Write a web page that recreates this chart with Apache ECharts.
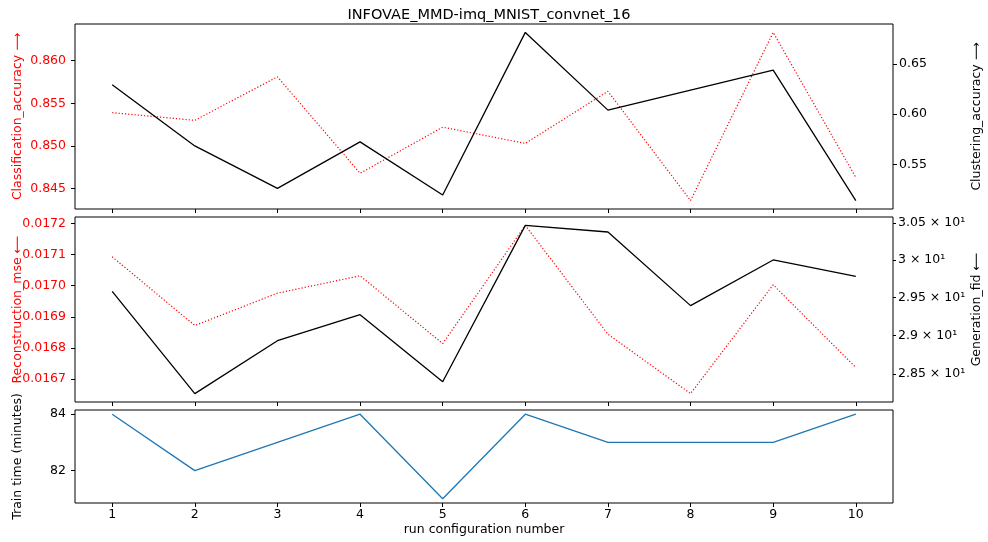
<!DOCTYPE html>
<html>
<head>
<meta charset="utf-8">
<script src="https://cdn.jsdelivr.net/npm/echarts@6/dist/echarts.min.js"></script>
<style>
html,body{margin:0;padding:0;background:#fff;}
#chart{width:988px;height:542px;}
</style>
</head>
<body>
<div id="chart"></div>
<script>
// ---- data ----
const runs = [1, 2, 3, 4, 5, 6, 7, 8, 9, 10];
const classificationAccuracy = [0.8539, 0.8530, 0.8581, 0.8468, 0.8522, 0.8503, 0.8564, 0.8436, 0.8633, 0.8463];
const clusteringAccuracy = [0.6292, 0.5684, 0.5262, 0.5724, 0.5196, 0.6813, 0.6040, 0.6240, 0.6437, 0.5140];
const reconstructionMse = [0.017093, 0.016872, 0.016976, 0.017032, 0.016814, 0.017194, 0.016844, 0.016653, 0.017003, 0.016737];
const generationFid = [29.58, 28.25, 28.93, 29.27, 28.40, 30.47, 30.38, 29.39, 30.00, 29.78];
const trainTime = [84, 82, 83, 84, 81, 84, 83, 83, 83, 84];

// ---- tick labels ----
const xTicks = [1, 2, 3, 4, 5, 6, 7, 8, 9, 10];
const classTicks = [0.845, 0.850, 0.855, 0.860];
const clusterTicks = [0.55, 0.60, 0.65];
const mseTicks = [0.0167, 0.0168, 0.0169, 0.0170, 0.0171, 0.0172];
const fidTicks = [28.5, 29, 29.5, 30, 30.5];
const fidTickLabels = ['2.85 × 10¹', '2.9 × 10¹', '2.95 × 10¹', '3 × 10¹', '3.05 × 10¹'];
const timeTicks = [82, 84];

const title = 'INFOVAE_MMD-imq_MNIST_convnet_16';

function pairs(ys) { return runs.map((x, i) => [x, ys[i]]); }
function lim(vals) {
  const lo = Math.min(...vals), hi = Math.max(...vals), r = hi - lo;
  return [lo - 0.05 * r, hi + 0.05 * r];
}
function logLim(vals) {
  const l = lim(vals.map(v => Math.log10(v)));
  return [Math.pow(10, l[0]), Math.pow(10, l[1])];
}
const xl = lim(runs);

const FONT = 'DejaVu Sans';
const RED = '#ff0000';

function xAxis(gi, showLabels) {
  return {
    type: 'value', gridIndex: gi, min: xl[0], max: xl[1],
    axisLine: { show: false },
    splitLine: { show: false },
    axisTick: { show: true, length: 4, customValues: xTicks, lineStyle: { color: '#000' } },
    axisLabel: { show: showLabels, customValues: xTicks, color: '#000', fontFamily: FONT, fontSize: 12.5, margin: 5 },
    name: showLabels ? 'run configuration number' : '',
    nameLocation: 'middle', nameGap: 20, nameMoveOverlap: false,
    nameTextStyle: { color: '#000', fontFamily: FONT, fontSize: 12.5 }
  };
}

function yAxis(opts) {
  return Object.assign({
    type: 'value', splitLine: { show: false }, axisLine: { show: false },
    nameLocation: 'middle', nameRotate: 90, nameMoveOverlap: false
  }, opts);
}

function grid(top, height) {
  return { left: 75, right: 95, top: top, height: height, show: true, borderColor: '#000', borderWidth: 1,
           backgroundColor: 'transparent', outerBoundsMode: 'none', containLabel: false };
}

const cl = lim(classificationAccuracy);
const cu = lim(clusteringAccuracy);
const ml = lim(reconstructionMse);
const fl = logLim(generationFid);
const tl = lim(trainTime);

const option = {
  animation: false,
  backgroundColor: '#fff',
  title: {
    text: title, left: 484, top: 3, textAlign: 'center',
    textStyle: { fontFamily: FONT, fontSize: 14.5, fontWeight: 'normal', color: '#000' }
  },
  grid: [grid(24, 185), grid(217, 185), grid(410, 93)],
  xAxis: [xAxis(0, false), xAxis(1, false), xAxis(2, true)],
  yAxis: [
    yAxis({
      gridIndex: 0, position: 'left', min: cl[0], max: cl[1],
      axisTick: { show: true, length: 4, customValues: classTicks, lineStyle: { color: '#000' } },
      axisLabel: { customValues: classTicks, color: RED, fontFamily: FONT, fontSize: 12.5, margin: 9, formatter: v => v.toFixed(3) },
      name: 'Classification_accuracy ⟶', nameGap: 51,
      nameTextStyle: { color: RED, fontFamily: FONT, fontSize: 12.5 }
    }),
    yAxis({
      gridIndex: 0, position: 'right', min: cu[0], max: cu[1],
      axisTick: { show: true, length: 4, customValues: clusterTicks, lineStyle: { color: '#000' } },
      axisLabel: { customValues: clusterTicks, color: '#000', fontFamily: FONT, fontSize: 12.5, margin: 6, formatter: v => v.toFixed(2) },
      name: 'Clustering_accuracy ⟶', nameGap: 77,
      nameTextStyle: { color: '#000', fontFamily: FONT, fontSize: 12.5 }
    }),
    yAxis({
      gridIndex: 1, position: 'left', min: ml[0], max: ml[1],
      axisTick: { show: true, length: 4, customValues: mseTicks, lineStyle: { color: '#000' } },
      axisLabel: { customValues: mseTicks, color: RED, fontFamily: FONT, fontSize: 12.5, margin: 9, formatter: v => v.toFixed(4) },
      name: 'Reconstruction_mse ⟵', nameGap: 51,
      nameTextStyle: { color: RED, fontFamily: FONT, fontSize: 12.5 }
    }),
    yAxis({
      gridIndex: 1, position: 'right', type: 'log', min: fl[0], max: fl[1],
      axisTick: { show: true, length: 3, customValues: fidTicks, lineStyle: { color: '#000' } },
      axisLabel: {
        customValues: fidTicks, color: '#000', fontFamily: FONT, fontSize: 12.5, margin: 5,
        formatter: v => { const i = fidTicks.findIndex(t => Math.abs(t - v) < 1e-6); return i >= 0 ? fidTickLabels[i] : ''; }
      },
      name: 'Generation_fid ⟵', nameGap: 77,
      nameTextStyle: { color: '#000', fontFamily: FONT, fontSize: 12.5 }
    }),
    yAxis({
      gridIndex: 2, position: 'left', min: tl[0], max: tl[1],
      axisTick: { show: true, length: 4, customValues: timeTicks, lineStyle: { color: '#000' } },
      axisLabel: { customValues: timeTicks, color: '#000', fontFamily: FONT, fontSize: 12.5, margin: 9, formatter: v => String(Math.round(v)) },
      name: 'Train time (minutes)', nameGap: 51,
      nameTextStyle: { color: '#000', fontFamily: FONT, fontSize: 12.5 }
    })
  ],
  series: [
    { type: 'line', xAxisIndex: 0, yAxisIndex: 0, data: pairs(classificationAccuracy), showSymbol: false, symbol: 'none',
      lineStyle: { color: RED, width: 1.2, type: [1.2, 2] } },
    { type: 'line', xAxisIndex: 0, yAxisIndex: 1, data: pairs(clusteringAccuracy), showSymbol: false, symbol: 'none',
      lineStyle: { color: '#000', width: 1.3 } },
    { type: 'line', xAxisIndex: 1, yAxisIndex: 2, data: pairs(reconstructionMse), showSymbol: false, symbol: 'none',
      lineStyle: { color: RED, width: 1.2, type: [1.2, 2] } },
    { type: 'line', xAxisIndex: 1, yAxisIndex: 3, data: pairs(generationFid), showSymbol: false, symbol: 'none',
      lineStyle: { color: '#000', width: 1.3 } },
    { type: 'line', xAxisIndex: 2, yAxisIndex: 4, data: pairs(trainTime), showSymbol: false, symbol: 'none',
      lineStyle: { color: '#1f77b4', width: 1.3 } }
  ]
};

const chart = echarts.init(document.getElementById('chart'), null, { renderer: 'canvas' });
chart.setOption(option);
</script>
</body>
</html>
